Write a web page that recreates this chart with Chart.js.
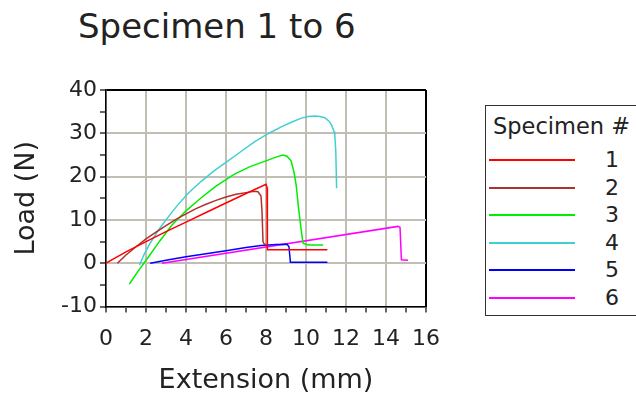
<!DOCTYPE html>
<html>
<head>
<meta charset="utf-8">
<script src="https://cdn.jsdelivr.net/npm/chart.js@4/dist/chart.umd.min.js"></script>
<style>
	html, body { margin: 0; padding: 0; background: #fff; }
	body { width: 636px; height: 397px; position: relative; overflow: hidden; font-family: "DejaVu Sans", Verdana, sans-serif; color: #222; }
	#title { position: absolute; left: 78px; top: 9px; font-size: 34px; line-height: 34px; white-space: nowrap; }
	#wrap { position: absolute; left: 0; top: 0; width: 454px; height: 397px; }
	#legend { position: absolute; left: 485px; top: 105px; width: 170px; height: 211px; border: 1.5px solid #333; box-sizing: border-box; }
	#legend .head { position: absolute; left: 7px; top: 8px; font-size: 22.5px; line-height: 24px; white-space: nowrap; }
	#legend .row { position: absolute; left: 3px; width: 160px; height: 24px; }
	#legend .swatch { position: absolute; left: 0; top: 11px; width: 86px; height: 2px; }
	#legend .num { position: absolute; left: 108px; top: 0; width: 30px; text-align: center; font-size: 22px; line-height: 24px; }
</style>
</head>
<body>
<div id="title">Specimen 1 to 6</div>
<div id="wrap"><canvas id="chart"></canvas></div>
<div id="legend"></div>
<script>
// load / extension curves, [extension mm, load N]
var specimen1 = [[0,0],[1,2.6],[2,5.0],[3,7.3],[4,9.5],[5,11.7],[6,13.9],[7,16.1],[8.0,18.2],[8.05,17.5],[8.07,3.1],[11.07,3.1]];
var specimen2 = [[0.57,0],[1,1.9],[1.5,3.8],[2,5.6],[2.5,7.2],[3,8.7],[3.5,10.1],[4,11.4],[4.5,12.6],[5,13.6],[5.5,14.5],[6,15.3],[6.5,15.9],[7,16.3],[7.4,16.6],[7.6,16.5],[7.75,15.5],[7.8,12],[7.85,5],[7.9,4.5],[8.0,4.2]];
var specimen3 = [[1.17,-4.8],[1.6,-1.9],[2.13,1.5],[2.7,5.2],[3.3,8.8],[4,12.1],[4.73,15],[5.5,17.8],[6.4,20.5],[7.2,22.3],[8.1,23.8],[8.5,24.5],[8.84,25],[9.05,24.7],[9.26,23.6],[9.4,21],[9.51,18],[9.62,13],[9.73,8.8],[9.85,4.6],[10.1,4.2],[10.86,4.2]];
var specimen4 = [[1.68,-0.4],[1.9,2.0],[2.2,4.6],[2.6,7.5],[3,10.0],[3.56,13.3],[4.1,16.1],[4.73,18.8],[5.4,21.3],[6.07,23.5],[6.75,25.8],[7.42,28],[8.1,29.9],[8.76,31.5],[9.3,32.6],[9.77,33.5],[10.1,33.9],[10.44,34],[10.7,33.9],[10.94,33.6],[11.15,32.8],[11.28,31.9],[11.4,30.4],[11.44,29.6],[11.49,25.8],[11.53,17.3]];
var specimen5 = [[2.21,0],[3,0.7],[4,1.5],[5,2.2],[6,2.9],[7,3.6],[7.75,4.1],[8.5,4.3],[9.05,4.4],[9.15,3.8],[9.22,0.2],[11.07,0.2]];
var specimen6 = [[2.8,0],[14.6,8.5],[14.7,8.3],[14.77,0.8],[15.1,0.7]];

var specimenNames = ['1', '2', '3', '4', '5', '6'];
var specimenColors = ['#ff0000', '#b03030', '#00ee00', '#40d0d0', '#0000ff', '#ff00ff'];
var specimenData = [specimen1, specimen2, specimen3, specimen4, specimen5, specimen6];

var xTicks = [0, 2, 4, 6, 8, 10, 12, 14, 16];
var yTicks = [-10, 0, 10, 20, 30, 40];

var gridGrey = '#c2beb3';

function toPoints(pairs) {
	return pairs.map(function(p) {
		return { x: p[0], y: p[1] };
	});
}

var datasets = specimenData.map(function(pairs, i) {
	return {
		label: specimenNames[i],
		data: toPoints(pairs),
		borderColor: specimenColors[i],
		backgroundColor: specimenColors[i],
		borderWidth: 1.5,
		pointRadius: 0,
		showLine: true,
		fill: false,
		tension: 0
	};
});

function gridColor(ticks, max) {
	return function(ctx) {
		var v = ctx.tick ? ctx.tick.value : null;
		if (v === max) return '#000';
		if (ticks.indexOf(v) >= 0) return gridGrey;
		return 'rgba(0,0,0,0)';
	};
}

var tickFont = { family: 'DejaVu Sans', size: 22 };
var titleFont = { family: 'DejaVu Sans', size: 27 };

var chart = new Chart(document.getElementById('chart').getContext('2d'), {
	type: 'scatter',
	data: { datasets: datasets },
	options: {
		responsive: true,
		maintainAspectRatio: false,
		animation: false,
		layout: { padding: { top: 90, left: 3, right: 16, bottom: 0 } },
		plugins: {
			legend: { display: false },
			tooltip: { enabled: false },
			title: { display: false }
		},
		scales: {
			x: {
				type: 'linear',
				min: 0,
				max: 16,
				afterFit: function(scale) { scale.height = 90.5; },
				ticks: {
					stepSize: 1,
					autoSkip: false,
					maxRotation: 0,
					color: '#222',
					font: tickFont,
					padding: 14,
					callback: function(v) { return xTicks.indexOf(v) >= 0 ? String(v) : ''; }
				},
				grid: {
					color: gridColor(xTicks, 16),
					lineWidth: 2,
					tickColor: '#000',
					tickLength: 6,
					tickWidth: 1.2
				},
				border: { color: '#000', width: 1.5 },
				title: { display: true, text: 'Extension (mm)', color: '#222', font: titleFont, padding: { top: 0, bottom: 0 } }
			},
			y: {
				type: 'linear',
				min: -10,
				max: 40,
				afterFit: function(scale) { scale.width = 103; },
				ticks: {
					stepSize: 5,
					autoSkip: false,
					color: '#222',
					font: tickFont,
					padding: 3,
					callback: function(v) { return yTicks.indexOf(v) >= 0 ? String(v) : ''; }
				},
				grid: {
					color: gridColor(yTicks, 40),
					lineWidth: 2,
					tickColor: '#000',
					tickLength: 6,
					tickWidth: 1.2
				},
				border: { color: '#000', width: 1.5 },
				title: { display: true, text: 'Load (N)', color: '#222', font: titleFont, padding: { top: 8, bottom: 0 } }
			}
		}
	}
});

// legend box on the right, built from the chart's datasets
var legend = document.getElementById('legend');
var head = document.createElement('div');
head.className = 'head';
head.textContent = 'Specimen #';
legend.appendChild(head);
chart.data.datasets.forEach(function(ds, i) {
	var row = document.createElement('div');
	row.className = 'row';
	row.style.top = Math.round(42 + i * 27.5) + 'px';
	var sw = document.createElement('div');
	sw.className = 'swatch';
	sw.style.background = ds.borderColor;
	var num = document.createElement('div');
	num.className = 'num';
	num.textContent = ds.label;
	row.appendChild(sw);
	row.appendChild(num);
	legend.appendChild(row);
});
</script>
</body>
</html>
